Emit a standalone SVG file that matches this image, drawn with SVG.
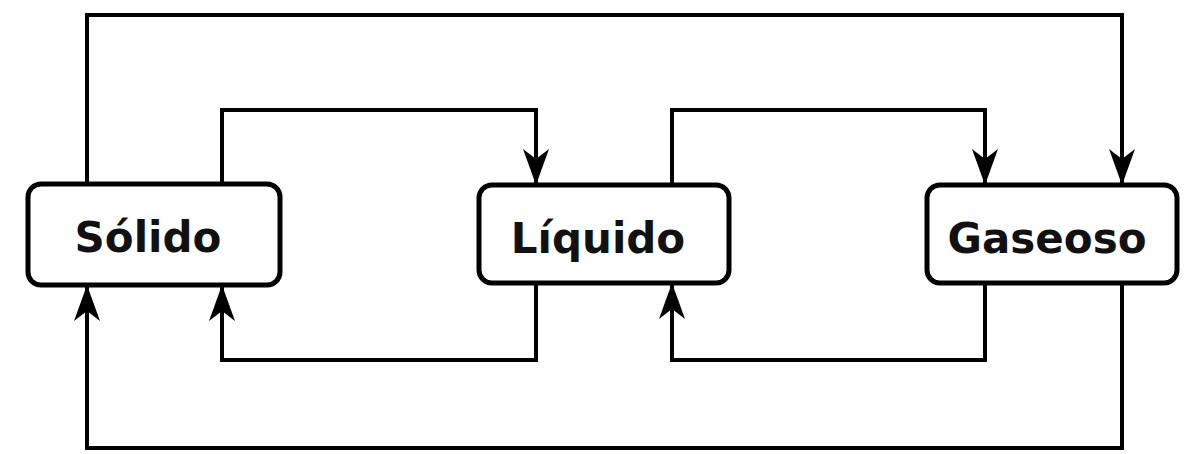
<svg xmlns="http://www.w3.org/2000/svg" width="1185" height="454" viewBox="0 0 1185 454">
<style>
.box{fill:#fff;stroke:#000;stroke-width:5}
.lbl{font-family:"DejaVu Sans",sans-serif;font-weight:bold;font-size:42px;fill:#111;text-anchor:middle}
.c{fill:none;stroke:#000;stroke-width:4;marker-end:url(#ah)}
</style>
<defs>
<marker id="ah" markerUnits="userSpaceOnUse" markerWidth="36" markerHeight="26" viewBox="0 0 36 26" refX="34" refY="13" orient="auto">
<path d="M0,0 L36,13 L0,26 L10,13 Z" fill="#000"/>
</marker>
</defs>
<rect width="1185" height="454" fill="#fff"/>
<g id="connectors">
<path class="c" d="M87,184 V15 H1122 V183"/>
<path class="c" d="M222,184 V110 H536 V183"/>
<path class="c" d="M672,185 V110 H985 V183"/>
<path class="c" d="M536,283 V360 H222 V287"/>
<path class="c" d="M985,283 V360 H672 V285"/>
<path class="c" d="M1122,283 V448 H87 V287"/>
</g>
<g id="solido"><rect class="box" x="28" y="184" width="252" height="101" rx="13"/><text class="lbl" x="148" y="252">Sólido</text></g>
<g id="liquido"><rect class="box" x="479" y="185" width="250" height="98" rx="13"/><text class="lbl" x="598" y="253">Líquido</text></g>
<g id="gaseoso"><rect class="box" x="927" y="185" width="250" height="98" rx="13"/><text class="lbl" x="1047" y="253">Gaseoso</text></g>
</svg>
